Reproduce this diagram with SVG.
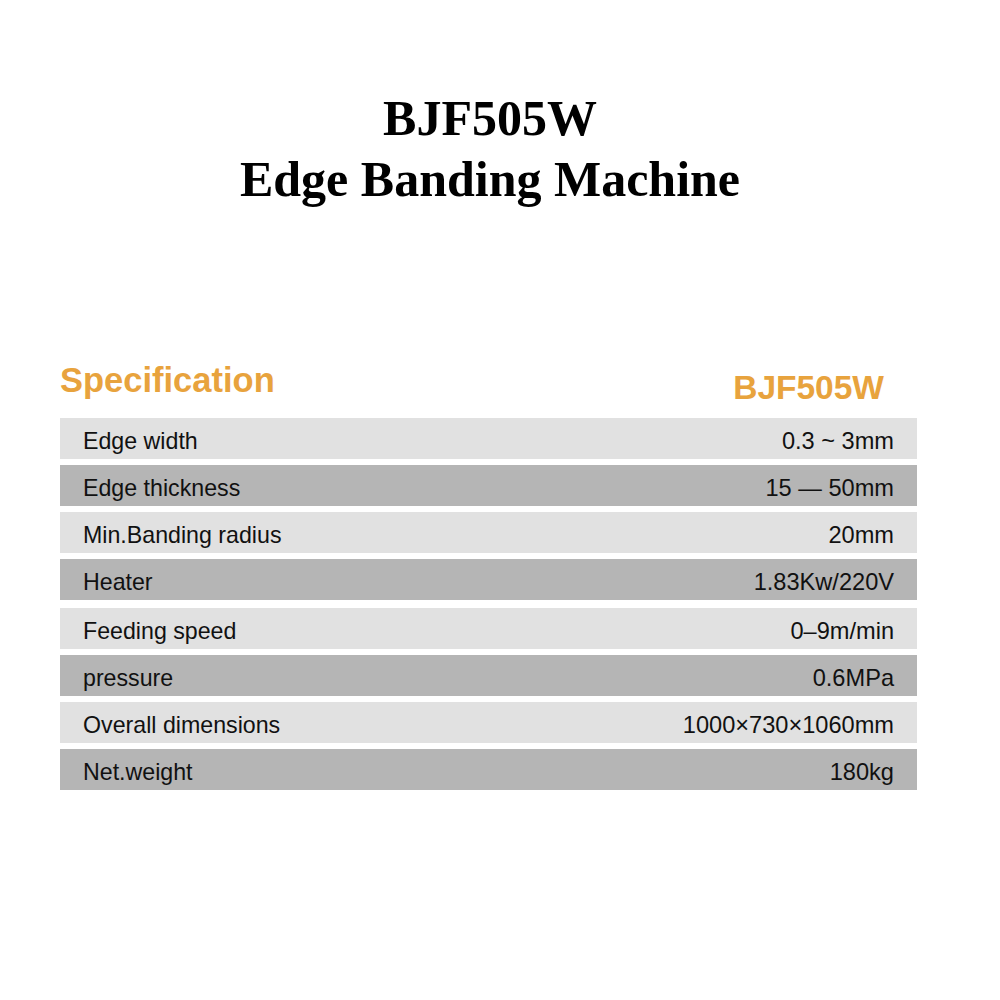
<svg xmlns="http://www.w3.org/2000/svg" width="1000" height="1000" viewBox="0 0 1000 1000">
<style>
.t{font-family:"Liberation Serif","Times New Roman",serif;font-weight:bold;font-size:50px;fill:#000;text-anchor:middle}
.h{font-family:"Liberation Sans",Arial,sans-serif;font-weight:bold;font-size:34.5px;fill:#e8a33d}
.l{font-family:"Liberation Sans",Arial,sans-serif;font-size:23.2px;fill:#111}
.v{font-family:"Liberation Sans",Arial,sans-serif;font-size:23.6px;fill:#111;text-anchor:end}
.a{fill:#e1e1e1}
.b{fill:#b5b5b5}
</style>
<rect width="1000" height="1000" fill="#fff"/>
<g id="title">
<text class="t" x="490" y="135">BJF505W</text>
<text class="t" x="490" y="196">Edge Banding Machine</text>
</g>
<g id="header">
<text class="h" x="60" y="392">Specification</text>
<text class="h" x="884" y="399" text-anchor="end" style="font-size:33.5px">BJF505W</text>
</g>
<g id="row1"><rect class="a" x="60" y="418" width="857" height="41"/><text class="l" x="83" y="449">Edge width</text><text class="v" x="894" y="449">0.3 ~ 3mm</text></g>
<g id="row2"><rect class="b" x="60" y="465" width="857" height="41"/><text class="l" x="83" y="496">Edge thickness</text><text class="v" x="894" y="496">15 — 50mm</text></g>
<g id="row3"><rect class="a" x="60" y="512" width="857" height="41"/><text class="l" x="83" y="543">Min.Banding radius</text><text class="v" x="894" y="543">20mm</text></g>
<g id="row4"><rect class="b" x="60" y="559" width="857" height="41"/><text class="l" x="83" y="590">Heater</text><text class="v" x="894" y="590">1.83Kw/220V</text></g>
<g id="row5"><rect class="a" x="60" y="608" width="857" height="41"/><text class="l" x="83" y="639">Feeding speed</text><text class="v" x="894" y="639">0–9m/min</text></g>
<g id="row6"><rect class="b" x="60" y="655" width="857" height="41"/><text class="l" x="83" y="686">pressure</text><text class="v" x="894" y="686">0.6MPa</text></g>
<g id="row7"><rect class="a" x="60" y="702" width="857" height="41"/><text class="l" x="83" y="733">Overall dimensions</text><text class="v" x="894" y="733">1000×730×1060mm</text></g>
<g id="row8"><rect class="b" x="60" y="749" width="857" height="41"/><text class="l" x="83" y="780">Net.weight</text><text class="v" x="894" y="780">180kg</text></g>
</svg>
